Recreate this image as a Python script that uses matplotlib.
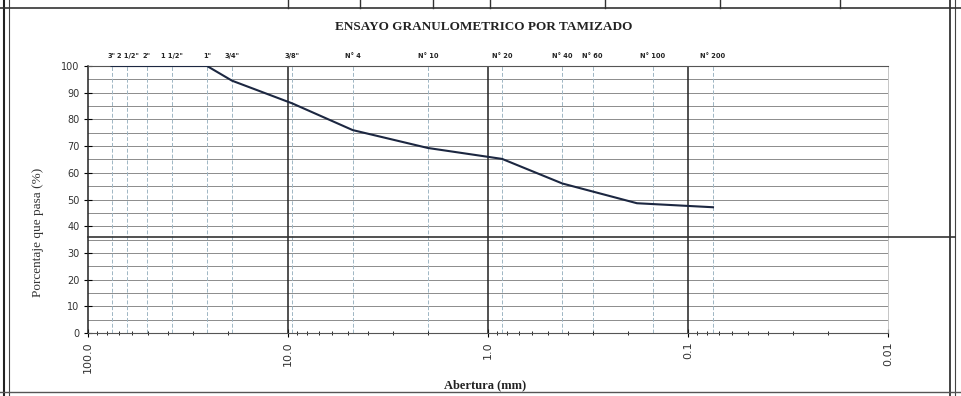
import matplotlib
matplotlib.use("Agg")
import matplotlib.pyplot as plt
from matplotlib.lines import Line2D
from matplotlib.ticker import FixedLocator, NullFormatter, LogLocator

# ---- data ----
sieve_labels = ['3"', '2 1/2"', '2"', '1 1/2"', '1"', '3/4"', '3/8"',
                'N° 4', 'N° 10', 'N° 20', 'N° 40', 'N° 60', 'N° 100', 'N° 200']
sieve_openings = [76.2, 63.5, 50.8, 38.1, 25.4, 19.05, 9.525,
                  4.75, 2.0, 0.85, 0.425, 0.30, 0.15, 0.075]

curve_openings = [76.2, 63.5, 50.8, 38.1, 25.4, 19.05, 9.525, 4.75, 2.0, 0.85, 0.425, 0.18, 0.075]
curve_passing = [100, 100, 100, 100, 100, 94.5, 86.0, 76.0, 69.3, 65.2, 56.0, 48.6, 47.1]

x_ticks = [100.0, 10.0, 1.0, 0.1, 0.01]
x_tick_labels = ["100.0", "10.0", "1.0", "0.1", "0.01"]
y_ticks = list(range(0, 101, 10))

title = "ENSAYO GRANULOMETRICO POR TAMIZADO"
xlabel = "Abertura (mm)"
ylabel = "Porcentaje que pasa (%)"

# ---- figure ----
W, H = 961, 396
fig = plt.figure(figsize=(W / 100, H / 100), dpi=100)
ax = fig.add_axes([88 / W, (H - 333) / H, 800 / W, 267 / H])

ax.set_xscale("log")
ax.set_xlim(100, 0.01)
ax.set_ylim(0, 100)

# horizontal grid every 5 %
for v in range(5, 100, 5):
    ax.axhline(v, color="#7a7a7a", lw=0.6, zorder=1)
# sieve vertical lines
for s in sieve_openings:
    ax.axvline(s, color="#9fb6c4", lw=0.7, ls=(0, (4, 2)), zorder=1)
# decade lines
for d in [10.0, 1.0, 0.1]:
    ax.axvline(d, color="#222222", lw=1.1, zorder=2)

ax.plot(curve_openings, curve_passing, color="#1c2741", lw=1.5, zorder=3)

ax.xaxis.set_major_locator(FixedLocator(x_ticks))
ax.set_xticklabels(x_tick_labels, rotation=90, fontsize=8, color="#333333",
                   family="DejaVu Sans")
ax.xaxis.set_minor_locator(LogLocator(base=10, subs=range(2, 10)))
ax.xaxis.set_minor_formatter(NullFormatter())
ax.tick_params(axis="x", which="major", direction="inout", length=6, width=0.8, pad=3)
ax.tick_params(axis="x", which="minor", direction="inout", length=3, width=0.6)

ax.set_yticks(y_ticks)
ax.set_yticklabels([str(v) for v in y_ticks], fontsize=7, color="#333333")
ax.tick_params(axis="y", direction="inout", length=6, width=0.8, pad=3)

for sp in ax.spines.values():
    sp.set_color("#555555")
    sp.set_linewidth(0.8)
ax.spines["right"].set_color("#bbbbbb")
ax.spines["right"].set_linewidth(0.6)
ax.spines["left"].set_color("#222222")
ax.spines["left"].set_linewidth(1.1)

# sieve labels on top
for lab, s in zip(sieve_labels, sieve_openings):
    ax.text(s, 102.5, lab, ha="center", va="bottom", fontsize=4.8,
            fontweight="bold", color="#222222", family="DejaVu Sans")

fig.text(484 / W, 1 - 27 / H, title, ha="center", va="center", fontsize=9.5,
         family="Liberation Serif", fontweight="bold", color="#222222")
fig.text(485 / W, 1 - 385 / H, xlabel, ha="center", va="center", fontsize=9,
         family="Liberation Serif", fontweight="bold", color="#222222")
fig.text(38 / W, 1 - 232 / H, ylabel, ha="center", va="center", fontsize=9.5,
         rotation=90, family="Liberation Serif", color="#333333")

# document frame (scanned form)
def fline(x0, y0, x1, y1, lw=1.0, color="#333333"):
    fig.add_artist(Line2D([x0 / W, x1 / W], [1 - y0 / H, 1 - y1 / H],
                          lw=lw, color=color))

fline(4, 0, 4, H, lw=1.5, color="#222222")
fline(9, 0, 9, H, lw=0.8, color="#444444")
fline(950, 0, 950, H, lw=1.2, color="#222222")
fline(955, 0, 955, H, lw=0.8, color="#444444")
fline(0, 8, W, 8, lw=1.2, color="#333333")
fline(0, 392, W, 392, lw=1.0, color="#555555")
for xv in [288, 360, 433, 490, 605, 720, 840]:
    fline(xv, 0, xv, 8, lw=1.0, color="#333333")
fline(88, 237, 955, 237, lw=1.2, color="#333333")

fig.savefig("out.png", dpi=100, facecolor="white")
